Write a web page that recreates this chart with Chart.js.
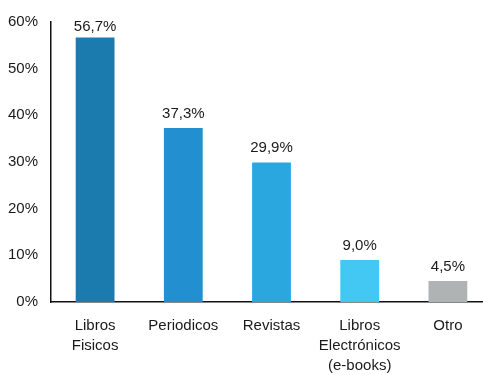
<!DOCTYPE html>
<html>
<head>
<meta charset="utf-8">
<script src="https://cdn.jsdelivr.net/npm/chart.js@4"></script>
<style>
  html, body { margin: 0; padding: 0; background: #fff; overflow: hidden; }
  #wrap { position: absolute; left: 0; top: 0; width: 492px; height: 375px; }
</style>
</head>
<body>
<div id="wrap"><canvas id="mediosChart"></canvas></div>
<script>
// datos
const categorias = [['Libros', 'Fisicos'], 'Periodicos', 'Revistas', ['Libros', 'Electrónicos', '(e-books)'], 'Otro'];
const porcentajes = [56.7, 37.3, 29.9, 9.0, 4.5];
const colores = ['#1b7bae', '#2290d0', '#2ba7df', '#43c7f3', '#afb3b4'];
const ticksY = [0, 10, 20, 30, 40, 50, 60];

const fuente = { family: '"Liberation Sans", Arial, sans-serif', size: 15 };

// etiquetas encima de las barras
const etiquetas = {
  id: 'etiquetas',
  afterDatasetsDraw(chart) {
    const ctx = chart.ctx;
    const meta = chart.getDatasetMeta(0);
    ctx.save();
    ctx.font = '15px "Liberation Sans", Arial, sans-serif';
    ctx.fillStyle = '#1a1a1a';
    ctx.textAlign = 'center';
    ctx.textBaseline = 'bottom';
    meta.data.forEach(function(bar, i) {
      const txt = porcentajes[i].toFixed(1).replace('.', ',') + '%';
      // no dejar que la etiqueta suba demasiado
      ctx.fillText(txt, bar.x, Math.max(bar.y - 7, 34));
    });
    ctx.restore();
  }
};

window.addEventListener('DOMContentLoaded', function() {
  const ctx = document.getElementById('mediosChart').getContext('2d');
  new Chart(ctx, {
    type: 'bar',
    data: {
      labels: categorias,
      datasets: [{
        data: porcentajes,
        backgroundColor: colores,
        categoryPercentage: 1,
        barPercentage: 0.44
      }]
    },
    options: {
      responsive: true,
      maintainAspectRatio: false,
      animation: false,
      layout: { padding: { top: 20, right: 0, left: 0, bottom: 0 } },
      plugins: {
        legend: { display: false },
        tooltip: { enabled: false }
      },
      scales: {
        x: {
          grid: { display: false, drawTicks: false },
          border: { display: true, color: '#111', width: 1.5 },
          ticks: { color: '#1a1a1a', font: Object.assign({ lineHeight: 1.33 }, fuente), padding: 14, maxRotation: 0, autoSkip: false },
          afterFit(scale) { scale.height = 73; }
        },
        y: {
          min: 0,
          max: 60,
          afterBuildTicks(scale) { scale.ticks = ticksY.map(v => ({ value: v })); },
          grid: { display: false, drawTicks: false },
          border: { display: true, color: '#111', width: 1.5 },
          ticks: { color: '#1a1a1a', font: fuente, padding: 13, callback: v => v + '%' },
          afterFit(scale) { scale.width = 51; }
        }
      }
    },
    plugins: [etiquetas]
  });
});
</script>
</body>
</html>
